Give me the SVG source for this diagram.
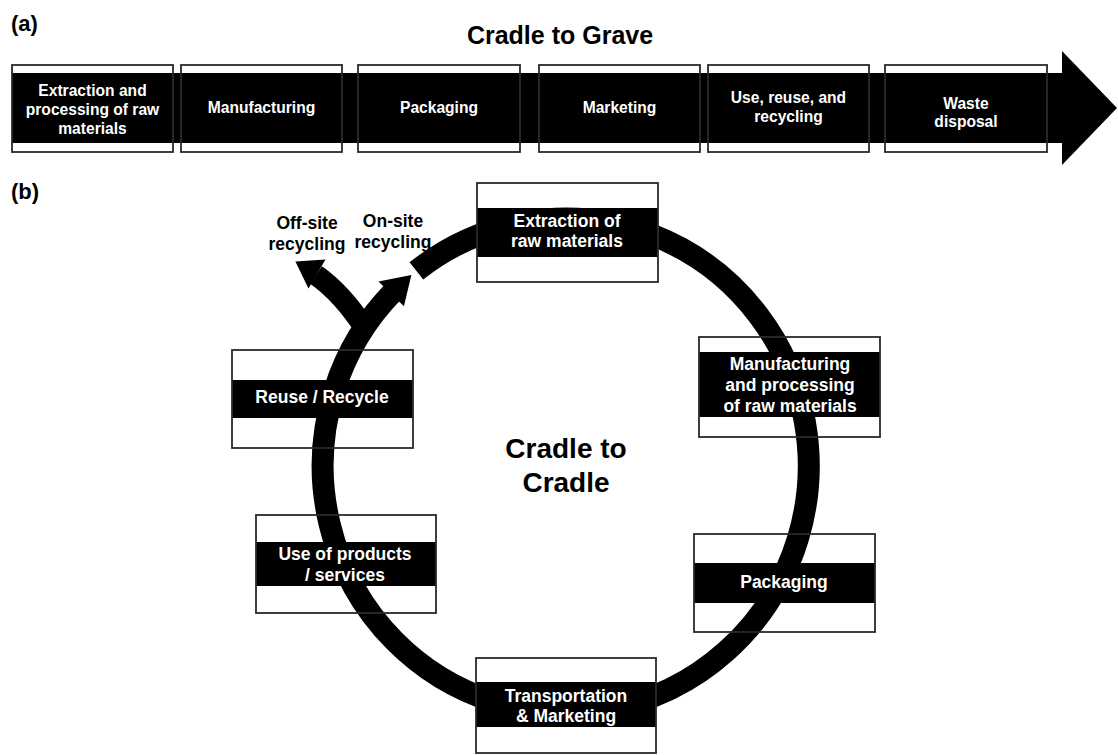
<svg xmlns="http://www.w3.org/2000/svg" width="1118" height="755" viewBox="0 0 1118 755">
<style>
text{font-family:"Liberation Sans",Arial,Helvetica,sans-serif;font-weight:bold;text-anchor:middle}
.lbl{fill:#000}
.wa{fill:#fff;font-size:15.6px}
.wb{fill:#fff;font-size:17.5px}
.box{fill:none;stroke:#2a2a2a;stroke-width:1.8}
.band{fill:#000}
.flow{fill:none;stroke:#000;stroke-width:22}
.head{fill:#000}
</style>
<rect width="1118" height="755" fill="#fff"/>
<text x="11" y="31" style="text-anchor:start;font-size:22px">(a)</text>
<text x="560" y="44" style="font-size:25px">Cradle to Grave</text>
<text x="11" y="199" style="text-anchor:start;font-size:22px">(b)</text>
<polygon id="cradle-to-grave-arrow" points="12,73 1062,73 1062,51 1117,108 1062,165 1062,143 12,143" fill="#000"/>
<g id="connectors">
<path class="flow" d="M416.4,270.9 A243,247 0 1 1 394.2,290.8"/>
<polygon class="head" points="411.4,274.9 378.5,281.6 403.9,306.2"/>
<path class="flow" style="stroke-width:21" d="M366,330 Q342,293 316,275"/>
<polygon class="head" points="295.4,261.4 325.5,259.6 308.5,288.4"/>
</g>
<g id="a-extraction"><rect class="box" x="12" y="65" width="161" height="87"/><text class="wa" x="92.5" y="96">Extraction and</text><text class="wa" x="92.5" y="115">processing of raw</text><text class="wa" x="92.5" y="134">materials</text></g>
<g id="a-manufacturing"><rect class="box" x="181" y="65" width="161" height="87"/><text class="wa" x="261.5" y="113">Manufacturing</text></g>
<g id="a-packaging"><rect class="box" x="358" y="65" width="162" height="87"/><text class="wa" x="439" y="113">Packaging</text></g>
<g id="a-marketing"><rect class="box" x="539" y="65" width="161" height="87"/><text class="wa" x="619.5" y="113">Marketing</text></g>
<g id="a-use"><rect class="box" x="708" y="65" width="161" height="87"/><text class="wa" x="788.5" y="103">Use, reuse, and</text><text class="wa" x="788.5" y="122">recycling</text></g>
<g id="a-waste"><rect class="box" x="885" y="65" width="162" height="87"/><text class="wa" x="966" y="109">Waste</text><text class="wa" x="966" y="127">disposal</text></g>
<g id="b-extraction"><rect class="band" x="477" y="208" width="181" height="49"/><rect class="box" x="477" y="183" width="181" height="99"/><text class="wb" x="567" y="227">Extraction of</text><text class="wb" x="567" y="247">raw materials</text></g>
<g id="b-manufacturing"><rect class="band" x="699" y="352" width="181" height="65"/><rect class="box" x="699" y="337" width="181" height="100"/><text class="wb" x="790" y="370">Manufacturing</text><text class="wb" x="790" y="391">and processing</text><text class="wb" x="790" y="412">of raw materials</text></g>
<g id="b-packaging"><rect class="band" x="694" y="563" width="181" height="40"/><rect class="box" x="694" y="534" width="181" height="98"/><text class="wb" x="784" y="588">Packaging</text></g>
<g id="b-transportation"><rect class="band" x="476" y="682" width="180" height="45"/><rect class="box" x="476" y="658" width="180" height="95"/><text class="wb" x="566" y="702">Transportation</text><text class="wb" x="566" y="722">&amp; Marketing</text></g>
<g id="b-use"><rect class="band" x="256" y="542" width="180" height="44"/><rect class="box" x="256" y="515" width="180" height="98"/><text class="wb" x="345" y="560">Use of products</text><text class="wb" x="345" y="581">/ services</text></g>
<g id="b-reuse"><rect class="band" x="232" y="380" width="181" height="38"/><rect class="box" x="232" y="350" width="181" height="98"/><text class="wb" x="322" y="403">Reuse / Recycle</text></g>
<g id="labels">
<text class="lbl" x="307" y="229" style="font-size:17.5px">Off-site</text>
<text class="lbl" x="307" y="250" style="font-size:17.5px">recycling</text>
<text class="lbl" x="393" y="227" style="font-size:17.5px">On-site</text>
<text class="lbl" x="393" y="248" style="font-size:17.5px">recycling</text>
<text class="lbl" x="566" y="458" style="font-size:28px">Cradle to</text>
<text class="lbl" x="566" y="492" style="font-size:28px">Cradle</text>
</g>
</svg>
